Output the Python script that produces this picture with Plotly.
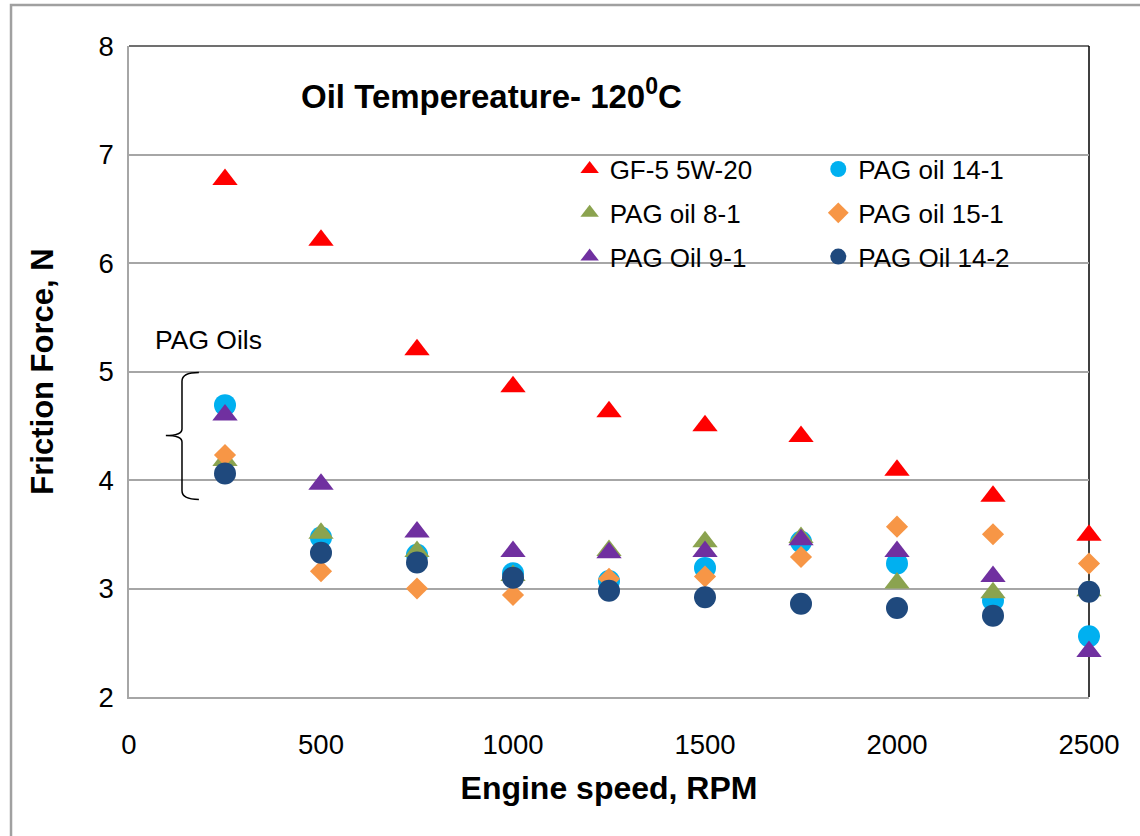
import plotly.graph_objects as go

rpm = [250, 500, 750, 1000, 1250, 1500, 1750, 2000, 2250, 2500]

gf5_5w20 = [6.77, 6.21, 5.20, 4.86, 4.63, 4.50, 4.40, 4.09, 3.85, 3.49]
pag_14_1 = [4.69, 3.47, 3.31, 3.14, 3.07, 3.19, 3.43, 3.23, 2.89, 2.56]
pag_8_1 = [4.18, 3.51, 3.34, 3.12, 3.35, 3.43, 3.47, 3.05, 2.96, 2.98]
pag_15_1 = [4.23, 3.16, 3.00, 2.94, 3.09, 3.11, 3.29, 3.57, 3.50, 3.23]
pag_9_1 = [4.60, 3.96, 3.52, 3.34, 3.33, 3.34, 3.45, 3.34, 3.11, 2.42]
pag_14_2 = [4.06, 3.33, 3.24, 3.10, 2.98, 2.92, 2.86, 2.82, 2.75, 2.97]

x_ticks = [0, 500, 1000, 1500, 2000, 2500]
y_ticks = [2, 3, 4, 5, 6, 7, 8]

FONT = "Liberation Sans, Arial, sans-serif"

series = [
    ("GF-5 5W-20", gf5_5w20, "triangle-up", "#FF0000", 22, "legend"),
    ("PAG oil 14-1", pag_14_1, "circle", "#00B0F0", 22, "legend2"),
    ("PAG oil 8-1", pag_8_1, "triangle-up", "#8BA34F", 22, "legend"),
    ("PAG oil 15-1", pag_15_1, "diamond", "#F79646", 17, "legend2"),
    ("PAG Oil 9-1", pag_9_1, "triangle-up", "#7030A0", 22, "legend"),
    ("PAG Oil 14-2", pag_14_2, "circle", "#1F497D", 22, "legend2"),
]

fig = go.Figure()
for name, vals, sym, col, size, lg in series:
    fig.add_trace(go.Scatter(
        x=rpm, y=vals, mode="markers", name=name, legend=lg, legendgroup=name,
        cliponaxis=False,
        marker=dict(symbol=sym, color=col, size=size, line=dict(width=0)),
    ))

legend_style = dict(
    font=dict(family=FONT, size=26, color="#000000"),
    bgcolor="rgba(0,0,0,0)", borderwidth=0, tracegroupgap=7,
    yanchor="top", xanchor="left", itemsizing="trace",
)

fig.update_layout(
    width=1140, height=836,
    margin=dict(l=129, r=51, t=46, b=139),
    paper_bgcolor="#FFFFFF", plot_bgcolor="#FFFFFF",
    font=dict(family=FONT, color="#000000"),
    showlegend=True,
    legend=dict(x=0.459, y=0.847, **legend_style),
    legend2=dict(x=0.718, y=0.847, **legend_style),
    xaxis=dict(
        range=[0, 2500], tickvals=x_ticks, showgrid=False, zeroline=False,
        showline=True, linecolor="#A6A6A6", linewidth=1.5, ticks="",
        tickfont=dict(family=FONT, size=27.5, color="#000000"),
        ticklabelstandoff=22,
        title=dict(text="<b>Engine speed, RPM</b>",
                   font=dict(family=FONT, size=32, color="#000000"), standoff=18),
    ),
    yaxis=dict(
        range=[2, 8], tickvals=y_ticks, showgrid=True, gridcolor="#A6A6A6",
        gridwidth=1.5, zeroline=False, showline=True, linecolor="#A6A6A6",
        linewidth=1.5, ticks="",
        tickfont=dict(family=FONT, size=27.5, color="#000000"),
        ticklabelstandoff=8,
        title=dict(text="<b>Friction Force, N</b>",
                   font=dict(family=FONT, size=31, color="#000000"), standoff=36),
    ),
)

# plot-area top and right borders
fig.add_shape(type="line", xref="paper", yref="paper", x0=0, x1=1, y0=1, y1=1,
              line=dict(color="#404040", width=1.5), layer="below")
fig.add_shape(type="line", xref="paper", yref="paper", x0=1, x1=1, y0=0, y1=1,
              line=dict(color="#000000", width=1.5), layer="below")

# outer chart frame (clipped at right/bottom)
fig.add_shape(type="rect", xref="paper", yref="paper",
              x0=-0.1229, x1=1.06, y0=-0.23, y1=1.063,
              line=dict(color="#A0A0A0", width=2.5), layer="below")

# title inside plot
fig.add_annotation(xref="paper", yref="paper", x=0.177, y=0.927,
                   xanchor="left", yanchor="middle", showarrow=False,
                   text="<b>Oil Tempereature- 120<sup>0</sup>C</b>",
                   font=dict(family=FONT, size=33, color="#000000"))

# PAG Oils label and brace
fig.add_annotation(x=206, y=5.29, xref="x", yref="y", showarrow=False,
                   text="PAG Oils", font=dict(family=FONT, size=26.5, color="#000000"))

xr, xv, xt = 182, 138, 96
yt, ym, yb = 4.99, 4.41, 3.82
brace = (f"M {xr},{yt} Q {xv},{yt} {xv},{yt-0.08} L {xv},{ym+0.06} "
         f"Q {xv},{ym} {xt},{ym} Q {xv},{ym} {xv},{ym-0.06} "
         f"L {xv},{yb+0.08} Q {xv},{yb} {xr},{yb}")
fig.add_shape(type="path", xref="x", yref="y", path=brace,
              line=dict(color="#000000", width=1.5))

fig.write_html("out.html", config={"displayModeBar": False},
               post_script="document.body.style.margin='0px';")
